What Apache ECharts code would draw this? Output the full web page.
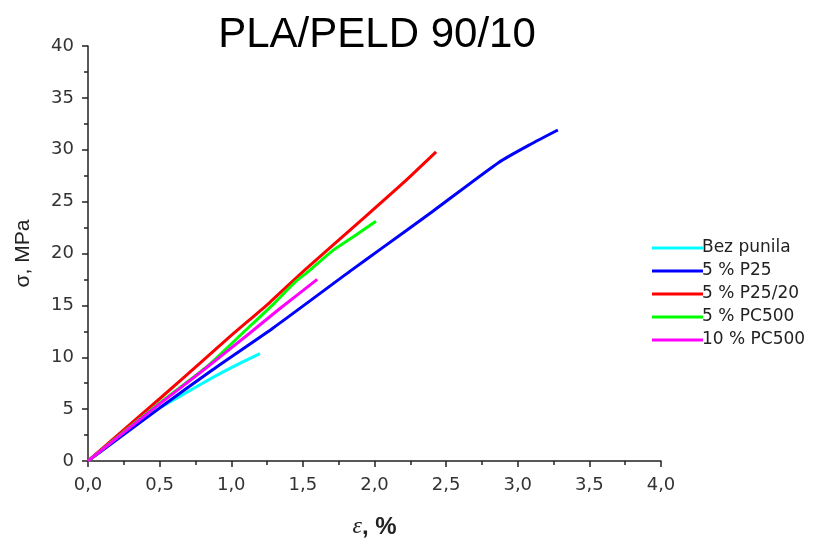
<!DOCTYPE html>
<html>
<head>
<meta charset="utf-8">
<script src="https://cdn.jsdelivr.net/npm/echarts@6/dist/echarts.min.js"></script>
<style>
html,body{margin:0;padding:0;background:#fff;}
#c{width:829px;height:541px;}
</style>
</head>
<body>
<div id="c"></div>
<script>
const seriesNames = ['Bez punila', '5 % P25', '5 % P25/20', '5 % PC500', '10 % PC500'];
const seriesColors = ['#00FFFF', '#0000FF', '#FF0000', '#00FF00', '#FF00FF'];

const bezPunila = [[0,0],[0.2,2.2],[0.4,4.3],[0.6,5.9],[0.8,7.5],[1.0,9.0],[1.2,10.35]];
const p25 = [[0,0],[0.5,5.1],[0.87,8.8],[1.29,12.8],[1.83,18.3],[2.04,20.4],[2.41,24.1],[2.87,28.8],[3.1,30.6],[3.28,31.9]];
const p25_20 = [[0,0],[0.5,6.0],[0.78,9.4],[1.0,12.1],[1.27,15.3],[1.52,18.5],[1.94,23.6],[2.2,26.8],[2.43,29.8]];
const pc500_5 = [[0,0],[0.5,5.6],[0.83,9.1],[1.1,12.6],[1.3,15.2],[1.45,17.3],[1.55,18.4],[1.71,20.3],[1.85,21.6],[2.01,23.1]];
const pc500_10 = [[0,0],[0.5,5.5],[0.8,8.7],[1.1,12.0],[1.34,14.7],[1.6,17.5]];
const allData = [bezPunila, p25, p25_20, pc500_5, pc500_10];

const xMin = 0, xMax = 4, xStep = 0.5;
const yMin = 0, yMax = 40, yStep = 5;

const chart = echarts.init(document.getElementById('c'), null, {renderer: 'canvas'});
const axisColor = '#222';
const lblFont = '"Liberation Sans", Arial, sans-serif';
const tickFont = '"DejaVu Sans", sans-serif';

chart.setOption({
  animation: false,
  backgroundColor: '#fff',
  title: {
    text: 'PLA/PELD 90/10',
    left: 372, textAlign: 'center', top: 9,
    textStyle: {fontFamily: lblFont, fontSize: 42, fontWeight: 'normal', color: '#000'}
  },
  legend: {
    orient: 'vertical',
    left: 647, top: 234,
    icon: 'rect',
    itemWidth: 51, itemHeight: 3,
    itemGap: 5,
    data: seriesNames,
    textStyle: {fontFamily: tickFont, fontSize: 17, color: '#222', lineHeight: 18, padding: [0,0,0,-6]}
  },
  grid: {left: 88, right: 168, top: 46, bottom: 80, containLabel: false, outerBoundsMode: 'none'},
  xAxis: {
    type: 'value', min: xMin, max: xMax, interval: xStep,
    name: '{e|ε}{b|, %}',
    nameLocation: 'middle', nameGap: 54,
    nameTextStyle: {
      rich: {
        e: {fontFamily: '"Liberation Serif", "DejaVu Serif", serif', fontStyle: 'italic', fontSize: 24, color: '#222'},
        b: {fontFamily: lblFont, fontWeight: 'bold', fontSize: 24, color: '#222'}
      }
    },
    axisLine: {lineStyle: {color: axisColor, width: 1.5}},
    axisTick: {length: 6, lineStyle: {color: axisColor, width: 1.5}},
    minorTick: {show: true, splitNumber: 2, length: 4, lineStyle: {color: axisColor, width: 1.5}},
    splitLine: {show: false},
    axisLabel: {
      fontFamily: tickFont, fontSize: 18, color: '#333', margin: 15,
      formatter: v => v.toFixed(1).replace('.', ',')
    }
  },
  yAxis: {
    type: 'value', min: yMin, max: yMax, interval: yStep,
    name: 'σ, MPa',
    nameLocation: 'middle', nameGap: 54, nameRotate: 90,
    nameTextStyle: {fontFamily: lblFont, fontSize: 21, color: '#222'},
    axisLine: {show: true, lineStyle: {color: axisColor, width: 1.5}},
    axisTick: {show: true, length: 6, lineStyle: {color: axisColor, width: 1.5}},
    minorTick: {show: true, splitNumber: 2, length: 4, lineStyle: {color: axisColor, width: 1.5}},
    splitLine: {show: false},
    axisLabel: {fontFamily: tickFont, fontSize: 18, color: '#333', margin: 14}
  },
  series: allData.map((d, i) => ({
    name: seriesNames[i],
    type: 'line',
    data: d,
    showSymbol: false,
    symbol: 'none',
    smooth: 0.2,
    itemStyle: {color: seriesColors[i]},
    lineStyle: {color: seriesColors[i], width: 3}
  }))
});
</script>
</body>
</html>
